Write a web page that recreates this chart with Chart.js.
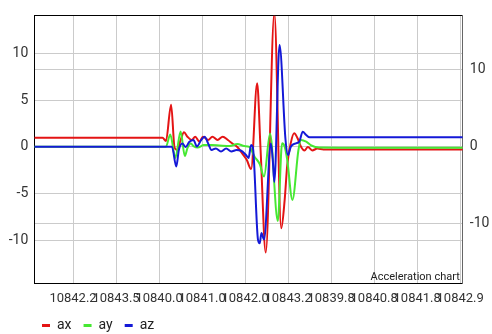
<!DOCTYPE html>
<html>
<head>
<meta charset="utf-8">
<script src="https://cdn.jsdelivr.net/npm/chart.js@4.4.1/dist/chart.umd.min.js"></script>
<style>
  html, body { margin: 0; padding: 0; background: #fff; }
  .container { width: 492px; height: 334px; }
</style>
</head>
<body>
<div class="container"><canvas id="accChart"></canvas></div>
<script>
// sample index (x) and value (y) for each series
const axIdx = [0, 149, 153, 159, 163, 166, 170, 174, 178, 183, 187, 192, 196, 202, 207, 213, 219, 225, 231, 236, 242, 247, 252, 259, 263, 269, 279, 287, 291, 294, 298, 302, 306, 310, 314, 318, 323, 329, 336, 344, 498];
const axVal = [0.96, 0.96, 0.6, 4.5, -0.1, -0.35, 0.7, 1.55, 1.07, 0.72, 1.07, 0.54, 1.07, 0.72, 1.07, 0.72, 1.07, 0.72, 0.29, -0.03, -0.78, -1.43, -2.4, 6.8, -0.35, -11.35, 14.3, -8.75, -5.7, -1.96, 0.36, 1.44, 0.9, 0, -0.4, -0.03, -0.4, -0.2, -0.3, -0.3, -0.3];

const ayIdx = [0, 153, 158, 164, 170, 175, 178, 182, 185, 190, 197, 206, 215, 227, 236, 244, 250, 256, 262, 267, 274, 283, 288, 291, 294, 300, 307, 310, 316, 322, 331, 354, 498];
const ayVal = [0, 0, 1.3, -1.2, 1.63, -1.0, -0.14, 0.34, 0.07, -0.09, 0.18, 0.18, 0.13, 0.07, 0.29, 0.07, -0.03, -1.07, -1.85, -3.2, 1.41, -7.96, 0.36, 0, -1.43, -5.7, -0.35, 0.72, 0.54, 0.13, -0.09, -0.1, -0.1];

const azIdx = [0, 160, 165, 168, 172, 176, 180, 185, 189, 194, 198, 202, 206, 211, 217, 223, 229, 235, 240, 246, 249, 252, 254, 260, 262, 264, 267, 275, 277, 279, 285, 292, 295, 298, 304, 308, 312, 316, 320, 498];
const azVal = [0, 0, -2.12, -0.35, 0.34, -0.03, 0.5, 0.72, 0.02, 0.72, 1.07, 0.36, -0.35, -0.19, -0.51, -0.19, -0.51, -0.35, -0.41, -0.89, -1.21, 0.18, -0.03, -9.99, -10.35, -9.25, -9.95, 0.34, -1.21, -3.78, 10.9, 0.72, -0.89, -0.03, 0.36, 0.54, 1.61, 1.25, 1.0, 1.0];

const xTickIdx = [45, 95, 145, 195, 245, 295, 345, 395, 445, 495];
const xTickLabels = ["10842.2", "10843.5", "10840.0", "10841.0", "10842.0", "10843.2", "10839.8", "10840.8", "10841.8", "10842.9"];

const toPoints = (xs, ys) => xs.map((x, i) => ({ x: x, y: ys[i] }));

// description in the bottom right corner of the plot + legend shift
const descriptionText = {
    id: "descriptionText",
    afterUpdate(chart) {
        chart.legend.left += 30;
    },
    afterDraw(chart) {
        const { ctx, chartArea } = chart;
        ctx.save();
        ctx.font = "11px Roboto";
        ctx.fillStyle = "#222";
        ctx.textAlign = "right";
        ctx.textBaseline = "alphabetic";
        ctx.fillText("Acceleration chart", chartArea.right - 3, chartArea.bottom - 3);
        ctx.restore();
    }
};

const gridColor = "#cbcbcb";
const tickColor = "#333";

const ctx = document.getElementById("accChart").getContext("2d");
const accChart = new Chart(ctx, {
    type: "line",
    data: {
        datasets: [
            {
                label: "ax",
                data: toPoints(axIdx, axVal),
                borderColor: "rgb(228,20,20)",
                backgroundColor: "rgb(228,20,20)",
                order: 3
            },
            {
                label: "ay",
                data: toPoints(ayIdx, ayVal),
                borderColor: "rgb(70,232,50)",
                backgroundColor: "rgb(70,232,50)",
                order: 2
            },
            {
                label: "az",
                data: toPoints(azIdx, azVal),
                borderColor: "rgb(20,25,215)",
                backgroundColor: "rgb(20,25,215)",
                order: 1
            }
        ]
    },
    options: {
        responsive: true,
        maintainAspectRatio: false,
        animation: false,
        layout: { padding: { left: 0, right: 0, top: 15.7, bottom: -8.5 } },
        datasets: {
            line: {
                xAxisID: "x",
                yAxisID: "y",
                borderWidth: 2,
                pointRadius: 0,
                fill: false,
                cubicInterpolationMode: "monotone"
            }
        },
        plugins: {
            tooltip: { enabled: false },
            legend: {
                position: "bottom",
                align: "start",
                labels: {
                    boxWidth: 8,
                    boxHeight: 3,
                    padding: 12,
                    color: "#222",
                    font: { family: "Roboto", size: 14 },
                    sort: (a, b) => a.datasetIndex - b.datasetIndex,
                    generateLabels: (chart) =>
                        Chart.defaults.plugins.legend.labels.generateLabels(chart)
                            .map(item => ({ ...item, lineWidth: 0 }))
                }
            }
        },
        scales: {
            x: {
                type: "linear",
                position: "bottom",
                min: 0,
                max: 498,
                afterBuildTicks: (scale) => { scale.ticks = xTickIdx.map(v => ({ value: v })); },
                afterFit: (scale) => { scale.height = 23.2; },
                grid: { color: gridColor, drawTicks: false },
                border: { color: "#000", width: 1 },
                ticks: {
                    autoSkip: false,
                    maxRotation: 0,
                    minRotation: 0,
                    padding: 8,
                    color: tickColor,
                    font: { family: "Roboto", size: 13 },
                    callback: (value) => xTickLabels[xTickIdx.indexOf(value)]
                }
            },
            xTop: {
                type: "linear",
                position: "top",
                grid: { display: false, drawTicks: false },
                ticks: { display: false },
                afterFit: (scale) => { scale.height = 0; },
                border: { color: "#000", width: 1 }
            },
            y: {
                position: "left",
                min: -14.64,
                max: 14.04,
                afterFit: (scale) => { scale.width = 34.3; },
                grid: { color: gridColor, drawTicks: false },
                border: { color: "#000", width: 1 },
                ticks: {
                    stepSize: 5,
                    includeBounds: false,
                    padding: 6,
                    color: tickColor,
                    font: { family: "Roboto", size: 14 }
                }
            },
            y1: {
                position: "right",
                min: -17.74,
                max: 17.05,
                afterFit: (scale) => { scale.width = 28; },
                grid: { color: gridColor, drawTicks: false },
                border: { color: "#666", width: 1 },
                ticks: {
                    stepSize: 10,
                    includeBounds: false,
                    padding: 7,
                    color: tickColor,
                    font: { family: "Roboto", size: 14 }
                }
            }
        }
    },
    plugins: [descriptionText]
});
</script>
</body>
</html>
